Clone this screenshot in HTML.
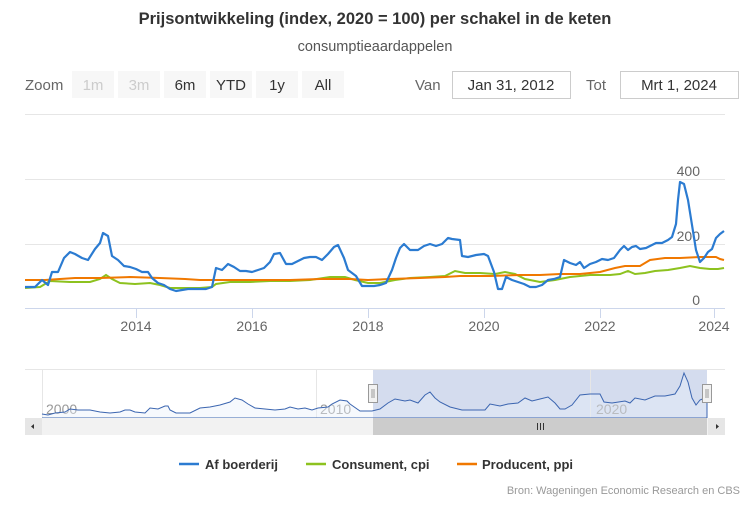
<!DOCTYPE html><html><head><style>
body{margin:0;background:#fff;font-family:"Liberation Sans",sans-serif}
</style></head><body>
<svg width="750" height="500" xmlns="http://www.w3.org/2000/svg" font-family="Liberation Sans, sans-serif">
<rect width="750" height="500" fill="#fff"/>
<text x="375" y="24" text-anchor="middle" font-size="16.5" font-weight="bold" fill="#333">Prijsontwikkeling (index, 2020 = 100) per schakel in de keten</text>
<text x="375" y="51" text-anchor="middle" font-size="14.5" fill="#555">consumptieaardappelen</text>
<g font-size="15">
<text x="25" y="90" fill="#666">Zoom</text>
<rect x="72" y="71" width="42" height="27" fill="#f7f7f7"/><text x="93" y="90" text-anchor="middle" fill="#ccc">1m</text>
<rect x="118" y="71" width="42" height="27" fill="#f7f7f7"/><text x="139" y="90" text-anchor="middle" fill="#ccc">3m</text>
<rect x="164" y="71" width="42" height="27" fill="#f7f7f7"/><text x="185" y="90" text-anchor="middle" fill="#333">6m</text>
<rect x="210" y="71" width="42" height="27" fill="#f7f7f7"/><text x="231" y="90" text-anchor="middle" fill="#333">YTD</text>
<rect x="256" y="71" width="42" height="27" fill="#f7f7f7"/><text x="277" y="90" text-anchor="middle" fill="#333">1y</text>
<rect x="302" y="71" width="42" height="27" fill="#f7f7f7"/><text x="323" y="90" text-anchor="middle" fill="#333">All</text>
<text x="415" y="90" fill="#666">Van</text>
<rect x="452.5" y="71.5" width="118" height="27" fill="#fff" stroke="#ccc"/><text x="511" y="90" text-anchor="middle" fill="#333">Jan 31, 2012</text>
<text x="586" y="90" fill="#666">Tot</text>
<rect x="620.5" y="71.5" width="118" height="27" fill="#fff" stroke="#ccc"/><text x="679" y="90" text-anchor="middle" fill="#333">Mrt 1, 2024</text>
</g>
<g stroke="#e6e6e6" stroke-width="1">
<line x1="25" y1="114.5" x2="725" y2="114.5"/><line x1="25" y1="179.5" x2="725" y2="179.5"/><line x1="25" y1="244.5" x2="725" y2="244.5"/>
</g>
<line x1="25" y1="308.5" x2="725" y2="308.5" stroke="#ccd6eb"/>
<g stroke="#ccd6eb"><line x1="136.5" y1="308" x2="136.5" y2="318"/><line x1="252.5" y1="308" x2="252.5" y2="318"/><line x1="368.5" y1="308" x2="368.5" y2="318"/><line x1="484.5" y1="308" x2="484.5" y2="318"/><line x1="600.5" y1="308" x2="600.5" y2="318"/><line x1="714.5" y1="308" x2="714.5" y2="318"/></g>
<g font-size="14" fill="#666" text-anchor="middle">
<text x="136" y="331">2014</text><text x="252" y="331">2016</text><text x="368" y="331">2018</text><text x="484" y="331">2020</text><text x="600" y="331">2022</text><text x="714" y="331">2024</text>
</g>
<g font-size="14" fill="#666" text-anchor="end">
<text x="700" y="176">400</text><text x="700" y="241">200</text><text x="700" y="305">0</text>
</g>
<polyline fill="none" stroke="#8dc21f" stroke-width="2" points="25,288 40,287 50,281 70,282 90,282 100,279 106,275 112,279 120,283 135,284 150,283 160,285 170,288 180,288 200,288 212,287 216,284 230,282 250,282 270,281 290,281 310,280 330,277 345,277 355,280 368,283 380,283 395,280 410,278 430,277 445,276 455,271 465,273 480,273 495,274 505,272 515,274 525,279 540,282 555,280 570,277 590,275 600,275 610,275 620,274 628,271 635,274 645,273 655,271 668,270 680,268 690,266 700,268 710,269 718,269 724,268"/>
<polyline fill="none" stroke="#f07800" stroke-width="2" points="25,280 45,280 60,279 75,278 100,278 130,277 160,278 185,279 200,280 230,280 260,280 290,280 320,279 350,279 368,280 390,279 420,278 445,277 460,276 490,276 520,275 540,275 560,274 580,274 600,272 615,268 625,266 640,266 650,260 665,258 680,258 700,257 716,257 720,259 724,260"/>
<polyline fill="none" stroke="#2b7bd1" stroke-width="2.2" stroke-linejoin="round" points="25,287 35,287 42,280 48,285 52,272 58,272 64,258 70,252 75,254 82,258 88,260 95,249 100,243 103,233 108,236 112,256 118,260 124,266 130,267 136,269 142,272 148,272 152,278 158,283 164,285 170,289 176,291 182,290 188,289 194,289 200,289 206,289 212,287 216,268 222,270 228,264 234,267 240,271 246,271 252,272 258,270 264,268 270,262 274,254 280,253 286,264 292,264 298,261 304,258 310,257 316,257 322,260 328,254 334,247 338,245 344,258 348,270 356,276 362,286 368,286 374,286 380,285 386,283 392,270 396,258 400,248 404,244 410,250 418,250 424,246 430,244 436,246 442,244 448,238 452,239 460,240 462,256 468,257 476,255 484,254 488,256 494,272 498,289 502,289 506,277 512,280 518,282 524,284 530,287 536,287 542,285 548,280 554,279 560,277 564,260 570,263 576,265 580,262 584,268 590,264 596,262 602,259 608,260 614,258 620,250 624,246 628,250 632,247 636,246 640,249 646,248 650,246 656,243 662,243 668,240 672,237 676,224 678,200 680,182 684,184 688,200 692,225 696,250 700,262 704,258 708,252 712,249 716,238 720,234 724,231"/>
<!-- navigator -->
<line x1="25" y1="369.5" x2="725" y2="369.5" stroke="#e6e6e6"/>
<rect x="373" y="370" width="334" height="48" fill="#ccd6eb" fill-opacity="0.85"/>
<g stroke="#e6e6e6"><line x1="42.5" y1="370" x2="42.5" y2="418"/><line x1="316.5" y1="370" x2="316.5" y2="418"/><line x1="590.5" y1="370" x2="590.5" y2="418"/></g>
<g font-size="14" fill="#999"><text x="46" y="414">2000</text><text x="320" y="414">2010</text><text x="596" y="414">2020</text></g>
<polyline fill="#e8f0fa" fill-opacity="0.4" stroke="#3b65b0" stroke-width="1" points="42,414 48,415 55,413 65,412 70,409 78,410 90,410 100,412 110,413 120,412 125,410 130,410 135,412 145,413 150,408 158,409 165,406 168,406 170,410 176,413 190,413 200,408 210,407 220,405 230,402 235,398 242,400 248,404 255,408 265,409 275,410 285,409 290,407 298,409 305,408 312,410 318,408 328,407 332,404 340,400 347,401 350,404 360,411 372,411 380,409 388,403 395,399 405,401 410,400 418,403 425,395 430,392 435,398 440,402 450,407 462,410 478,410 485,410 490,404 500,406 508,404 518,403 525,398 532,401 540,399 548,397 555,403 560,409 565,409 572,405 580,395 590,394 600,394 604,402 612,403 625,401 630,403 635,398 645,400 655,396 665,396 675,394 680,386 684,373 688,382 692,398 696,405 700,400 707,397 707,418 42,418"/>
<rect x="368.5" y="384.5" width="9" height="18" fill="#f2f2f2" stroke="#999"/><line x1="372" y1="389" x2="372" y2="398" stroke="#999"/><line x1="374" y1="389" x2="374" y2="398" stroke="#999"/>
<rect x="702.5" y="384.5" width="9" height="18" fill="#f2f2f2" stroke="#999"/><line x1="706" y1="389" x2="706" y2="398" stroke="#999"/><line x1="708" y1="389" x2="708" y2="398" stroke="#999"/>
<rect x="25" y="418" width="700" height="17" fill="#f2f2f2"/>
<rect x="373" y="418" width="334" height="17" fill="#cccccc"/>
<rect x="25" y="418" width="17" height="17" fill="#e6e6e6"/><rect x="708" y="418" width="17" height="17" fill="#e6e6e6"/>
<path d="M31,426.5 l3,-2.5 v5z" fill="#333"/><path d="M719,426.5 l-3,-2.5 v5z" fill="#333"/>
<g stroke="#333"><line x1="537.5" y1="423" x2="537.5" y2="430"/><line x1="540.5" y1="423" x2="540.5" y2="430"/><line x1="543.5" y1="423" x2="543.5" y2="430"/></g>
<!-- legend -->
<g font-size="13" font-weight="bold" fill="#333">
<line x1="179" y1="464" x2="199" y2="464" stroke="#2b7bd1" stroke-width="2.5"/><text x="205" y="469">Af boerderij</text>
<line x1="306" y1="464" x2="326" y2="464" stroke="#8dc21f" stroke-width="2.5"/><text x="332" y="469">Consument, cpi</text>
<line x1="457" y1="464" x2="477" y2="464" stroke="#f07800" stroke-width="2.5"/><text x="482" y="469">Producent, ppi</text>
</g>
<text x="740" y="494" text-anchor="end" font-size="11" fill="#999">Bron: Wageningen Economic Research en CBS</text>
</svg>
</body></html>
